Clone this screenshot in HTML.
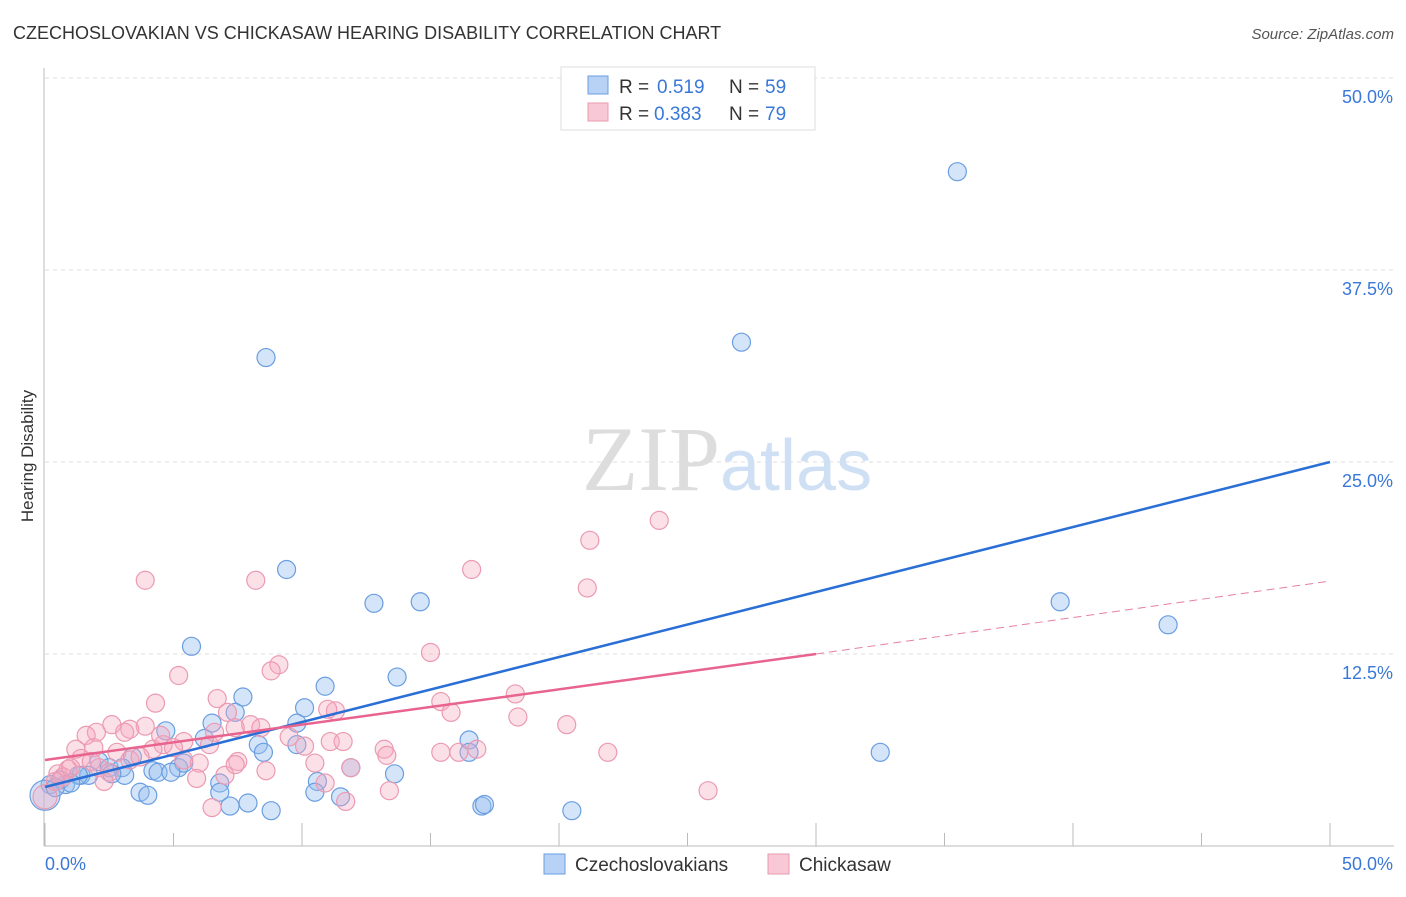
<!DOCTYPE html>
<html><head><meta charset="utf-8"><style>
body{margin:0;background:#fff;font-family:"Liberation Sans",sans-serif}
svg text{font-family:"Liberation Sans",sans-serif}
</style></head><body>
<svg id="chart" width="1406" height="892">
<text x="13" y="39" font-size="18" fill="#333">CZECHOSLOVAKIAN VS CHICKASAW HEARING DISABILITY CORRELATION CHART</text>
<text x="1394" y="39" font-size="15" fill="#555" font-style="italic" text-anchor="end">Source: ZipAtlas.com</text>
<text x="33" y="456" font-size="17" fill="#333" transform="rotate(-90 33 456)" text-anchor="middle">Hearing Disability</text>
<g id="grid"></g>
<text x="720" y="490" font-size="92" fill="#ddd" text-anchor="end" font-family="Liberation Serif" style="font-family:'Liberation Serif',serif">ZIP</text>
<text x="720" y="490" font-size="72" fill="#cfe0f5">atlas</text>
<g id="points"></g>
<g id="lines"></g>
<g>
<rect x="561" y="67" width="254" height="63" fill="#fff" stroke="#ddd"/>
<rect x="588" y="76" width="20" height="18" fill="#b8d2f5" stroke="#6a9ee0"/>
<text x="619" y="93" font-size="19" fill="#333">R =</text>
<text x="657" y="93" font-size="19" fill="#3a78d8">0.519</text>
<text x="729" y="93" font-size="19" fill="#333">N =</text>
<text x="765" y="93" font-size="19" fill="#3a78d8">59</text>
<rect x="588" y="103" width="20" height="18" fill="#f8c8d6" stroke="#e89ab0"/>
<text x="619" y="120" font-size="19" fill="#333">R =</text>
<text x="654" y="120" font-size="19" fill="#3a78d8">0.383</text>
<text x="729" y="120" font-size="19" fill="#333">N =</text>
<text x="765" y="120" font-size="19" fill="#3a78d8">79</text>
</g>
<g>
<rect x="544" y="854" width="21" height="20" fill="#b8d2f5" stroke="#6a9ee0"/>
<text x="575" y="871" font-size="19" fill="#333">Czechoslovakians</text>
<rect x="768" y="854" width="21" height="20" fill="#f8c8d6" stroke="#e89ab0"/>
<text x="799" y="871" font-size="19" fill="#333">Chickasaw</text>
</g>
</svg>
<script>
const blueX=[35.5,27.1,8.6,9.4,12.8,14.6,39.5,43.7,5.7,13.7,10.9,7.7,10.1,6.5,4.7,9.8,7.4,6.2,8.3,8.5,9.8,32.5,16.5,16.5,3.4,2.1,2.5,3.0,4.2,4.4,5.2,5.4,4.9,3.1,1.4,1.7,0.6,0.2,0.8,0.0,13.6,11.9,10.6,10.5,11.5,3.7,4.0,6.8,6.8,7.9,7.2,8.8,17.0,17.1,20.5,1.3,2.6,1.0,0.4];
const blueY=[43.9,32.8,31.8,18.0,15.8,15.9,15.9,14.4,13.0,11.0,10.4,9.7,9.0,8.0,7.5,8.0,8.7,7.0,6.6,6.1,6.6,6.1,6.9,6.1,5.8,5.5,5.1,5.1,4.9,4.8,5.1,5.4,4.8,4.6,4.6,4.6,4.3,4.0,4.0,3.3,4.7,5.1,4.2,3.5,3.2,3.5,3.3,4.1,3.5,2.8,2.6,2.3,2.6,2.7,2.3,4.6,4.7,4.1,3.8];
const pinkX=[23.9,21.2,16.6,21.1,3.9,8.2,9.1,8.8,5.2,15.0,18.3,15.4,11.3,15.8,18.4,20.3,4.3,6.7,7.1,2.6,3.9,3.3,3.1,2.0,1.6,5.4,6.4,4.6,5.0,4.2,8.0,8.4,7.4,6.6,9.5,10.1,11.0,11.1,11.6,13.2,13.3,15.4,16.1,16.8,21.9,1.2,1.9,2.8,3.3,1.4,0.9,2.1,0.5,0.7,2.5,7.5,8.6,10.5,10.9,11.9,13.4,25.8,6.0,7.0,5.9,6.5,11.7,2.3,0.4,1.0,4.5,3.7,1.8,5.4,7.4,0.0];
const pinkY=[21.2,19.9,18.0,16.8,17.3,17.3,11.8,11.4,11.1,12.6,9.9,9.4,8.8,8.7,8.4,7.9,9.3,9.6,8.7,7.9,7.8,7.6,7.4,7.4,7.2,6.8,6.6,6.6,6.4,6.3,7.9,7.7,7.7,7.4,7.1,6.5,8.9,6.8,6.8,6.3,5.9,6.1,6.1,6.3,6.1,6.3,6.4,6.1,5.6,5.7,5.0,5.1,4.7,4.5,4.8,5.5,4.9,5.4,4.1,5.1,3.6,3.6,5.4,4.6,4.4,2.5,2.9,4.2,4.2,5.1,7.2,5.8,5.5,5.6,5.3,3.2];
const blueTrend=[[0,3.84],[50,25.0]];
const pinkTrendSolid=[[0,5.6],[30,12.5]];
const pinkTrendDash=[[30,12.5],[50,17.25]];
const yTicks=[12.5,25.0,37.5,50.0];
const xTickLabels=["0.0%","50.0%"];
const sx=v=>45+v*25.7, sy=v=>846-v*15.36;
const NS="http://www.w3.org/2000/svg";
function mk(tag,attrs,parent){const e=document.createElementNS(NS,tag);for(const k in attrs)e.setAttribute(k,attrs[k]);parent.appendChild(e);return e;}
const grid=document.getElementById('grid');
const ax=mk('line',{x1:44,y1:68,x2:44,y2:846,stroke:'#bbb'},grid);


const bx=mk('line',{x1:44,y1:846,x2:1394,y2:846,stroke:'#bbb'},grid);


yTicks.forEach(t=>{
 const g=mk('line',{x1:45,y1:sy(t),x2:1394,y2:sy(t),stroke:'#ddd','stroke-dasharray':'4,4'},grid);
 
 
 const l=mk('text',{x:1393,y:sy(t)+25,'font-size':18,fill:'#3a78d8','text-anchor':'end'},grid);
 l.textContent=t.toFixed(1)+'%';
 
 
});
for(let i=0;i<=10;i++){
 const x=sx(i*5);
 const t=mk('line',{x1:x,y1:i%2?833:823,x2:x,y2:846,stroke:'#bbb'},grid);
 
 
}
[[0,45,'start'],[1,1393,'end']].forEach(([i,x,a])=>{
 const l=mk('text',{x:x,y:870,'font-size':18,fill:'#3a78d8','text-anchor':a},grid);
 l.textContent=xTickLabels[i];
 
 
});
const pts=document.getElementById('points');
blueX.forEach((x,i)=>{
 const c=mk('circle',{cx:sx(x),cy:sy(blueY[i]),r:(x===0?15:9),fill:'rgba(150,190,240,0.4)',stroke:'#6a9ee0','stroke-width':1.2},pts);
 
 
});
pinkX.forEach((x,i)=>{
 const c=mk('circle',{cx:sx(x),cy:sy(pinkY[i]),r:(x===0?12:9),fill:'rgba(245,165,190,0.35)',stroke:'#eb9ab2','stroke-width':1.2},pts);
 
 
});
const ln=document.getElementById('lines');
const b=mk('line',{x1:sx(blueTrend[0][0]),y1:sy(blueTrend[0][1]),x2:sx(blueTrend[1][0]),y2:sy(blueTrend[1][1]),stroke:'#2a6fd6','stroke-width':2.5},ln);


const p=mk('line',{x1:sx(pinkTrendSolid[0][0]),y1:sy(pinkTrendSolid[0][1]),x2:sx(pinkTrendSolid[1][0]),y2:sy(pinkTrendSolid[1][1]),stroke:'#e8648e','stroke-width':2.5},ln);


const pd=mk('line',{x1:sx(pinkTrendDash[0][0]),y1:sy(pinkTrendDash[0][1]),x2:sx(pinkTrendDash[1][0]),y2:sy(pinkTrendDash[1][1]),stroke:'#e8809f','stroke-width':1,'stroke-dasharray':'8,5'},ln);


</script>
</body></html>
